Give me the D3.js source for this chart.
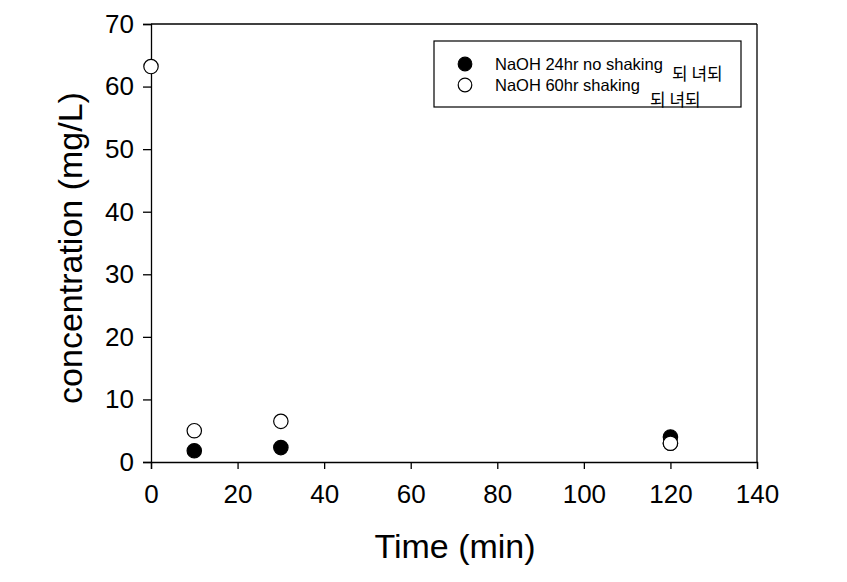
<!DOCTYPE html>
<html><head><meta charset="utf-8">
<script src="https://cdn.jsdelivr.net/npm/d3@7"></script>
<style>body{margin:0;background:#fff}svg{display:block}text{font-family:"Liberation Sans",Arial,sans-serif}</style>
</head><body><svg id="c" width="847" height="582"></svg>
<script>
const timeFilled = [10, 30, 120];
const concFilled = [1.8, 2.3, 4.0];
const timeOpen = [0, 10, 30, 120];
const concOpen = [63.2, 5.0, 6.5, 3.0];
const seriesNames = ["NaOH 24hr no shaking", "NaOH 60hr shaking"];
const xTicks = [0, 20, 40, 60, 80, 100, 120, 140];
const yTicks = [0, 10, 20, 30, 40, 50, 60, 70];
const garble = "되 녀되";

const svg = d3.select("#c");
const L = 151, R = 757, T = 24, B = 462;
const x = d3.scaleLinear().domain([0, 140]).range([L, R]);
const y = d3.scaleLinear().domain([0, 70]).range([B, T]);

// frame
svg.append("line").attr("x1", L).attr("x2", R).attr("y1", T).attr("y2", T).attr("stroke", "#000").attr("stroke-width", 1.3);
svg.append("line").attr("x1", R).attr("x2", R).attr("y1", T).attr("y2", B).attr("stroke", "#000").attr("stroke-width", 1.3);

const xa = svg.append("g").attr("transform", `translate(0,${B})`)
  .call(d3.axisBottom(x).tickValues(xTicks).tickSize(7).tickPadding(16).tickFormat(d3.format("d")));
const ya = svg.append("g").attr("transform", `translate(${L},0)`)
  .call(d3.axisLeft(y).tickValues(yTicks).tickSize(8).tickPadding(9).tickFormat(d3.format("d")));
[xa, ya].forEach(g => {
  g.select(".domain").attr("stroke", "#000").attr("stroke-width", 1.3);
  g.selectAll(".tick line").attr("stroke", "#000").attr("stroke-width", 1.3);
  g.selectAll("text").attr("fill", "#000").style("font-size", "26px").style("font-family", '"Liberation Sans",Arial,sans-serif');
});

svg.append("text").attr("x", (L + R) / 2 + 1).attr("y", 558).attr("text-anchor", "middle")
  .style("font-size", "34px").text("Time (min)");
svg.append("text").attr("transform", `translate(82,${(T + B) / 2 + 5}) rotate(-90)`).attr("text-anchor", "middle")
  .style("font-size", "34px").text("concentration (mg/L)");

// data
svg.selectAll(".po").data(timeOpen.map((t, i) => [t, concOpen[i]])).join("circle")
  .attr("cx", d => x(d[0])).attr("cy", d => y(d[1])).attr("r", 7.2)
  .attr("fill", "#fff").attr("stroke", "#000").attr("stroke-width", 1.2);
svg.selectAll(".pf").data(timeFilled.map((t, i) => [t, concFilled[i]])).join("circle")
  .attr("cx", d => x(d[0])).attr("cy", d => y(d[1])).attr("r", 7.2)
  .attr("fill", "#000").attr("stroke", "#000").attr("stroke-width", 1.2);
// redraw open point at 120 on top (as in reference)
svg.append("circle").attr("cx", x(timeOpen[3])).attr("cy", y(concOpen[3])).attr("r", 7.2)
  .attr("fill", "#fff").attr("stroke", "#000").attr("stroke-width", 1.2);

// legend
const lg = svg.append("g");
lg.append("rect").attr("x", 434).attr("y", 41).attr("width", 307).attr("height", 66)
  .attr("fill", "#fff").attr("stroke", "#000").attr("stroke-width", 1.2);
const ly = [64, 85];
seriesNames.forEach((n, i) => {
  lg.append("circle").attr("cx", 465).attr("cy", ly[i]).attr("r", 6.8)
    .attr("fill", i === 0 ? "#000" : "#fff").attr("stroke", "#000").attr("stroke-width", 1.2);
  lg.append("text").attr("x", 495).attr("y", ly[i] + 6).style("font-size", "16.5px").text(n);
});
lg.append("text").attr("x", 672).attr("y", 80).style("font-size", "17px")
  .style("font-family", '"Noto Sans CJK KR",sans-serif').text(garble);
lg.append("text").attr("x", 650).attr("y", 106).style("font-size", "17px")
  .style("font-family", '"Noto Sans CJK KR",sans-serif').text(garble);
</script></body></html>
